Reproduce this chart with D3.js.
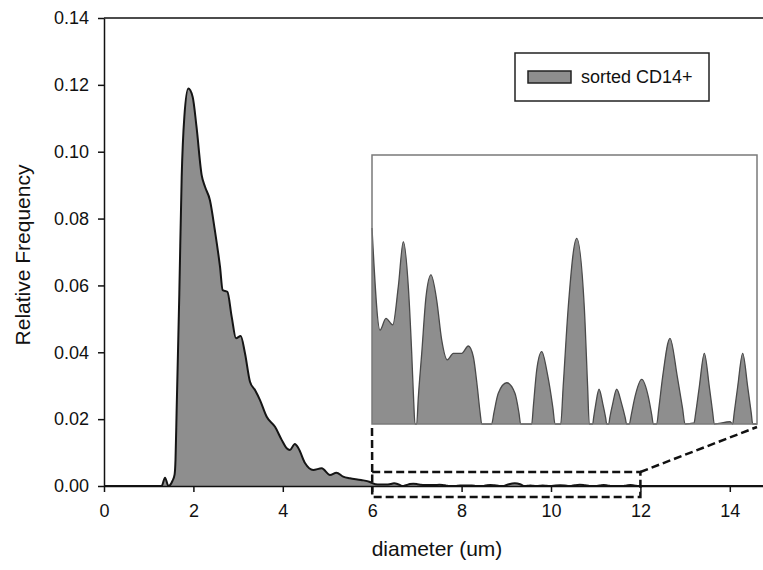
<!DOCTYPE html>
<html>
<head>
<meta charset="utf-8">
<script src="https://cdn.jsdelivr.net/npm/d3@7"></script>
<style>
  body { margin: 0; background: #fff; }
  svg { display: block; font-family: Arial, "Liberation Sans", sans-serif; }
</style>
</head>
<body>
<svg id="svg"></svg>
<script>
// main histogram (0 - 6 um)
var diam = [0, 1.29, 1.365, 1.44, 1.53, 1.58, 1.6, 1.625, 1.685, 1.738, 1.797, 1.886, 1.984, 2.07, 2.185, 2.26, 2.37, 2.48, 2.595, 2.655, 2.76, 2.857, 2.953, 3.058, 3.154, 3.266, 3.378, 3.49, 3.64, 3.826, 3.975, 4.087, 4.16, 4.27, 4.35, 4.5, 4.68, 4.87, 5.056, 5.2, 5.35, 5.5, 5.75, 5.95];
var freq = [0, 0, 0.0025, 0, 0.0015, 0.0035, 0.008, 0.0227, 0.0576, 0.0925, 0.1104, 0.1189, 0.1164, 0.1074, 0.093, 0.0895, 0.0855, 0.0765, 0.0656, 0.0586, 0.0581, 0.0506, 0.0442, 0.0449, 0.0397, 0.0312, 0.0287, 0.0257, 0.0207, 0.0177, 0.0138, 0.0113, 0.0108, 0.0126, 0.0113, 0.0068, 0.0048, 0.0053, 0.0033, 0.004, 0.0028, 0.0023, 0.0018, 0.0012];

// zoomed tail (6 - 12 um), shown in the inset
var insetDiam = [6.000, 6.125, 6.218, 6.323, 6.410, 6.488, 6.566, 6.619, 6.650, 6.670,
    6.697, 6.720, 6.775, 6.842, 6.919, 7.008, 7.086, 7.173, 7.267, 7.398, 7.501, 7.579, 7.641, 7.685, 7.710,
    7.865, 7.900, 7.968, 8.099, 8.228, 8.290, 8.317,
    8.489, 8.515, 8.567, 8.645, 8.732, 8.820, 8.852,
    8.941, 8.980, 9.059, 9.190, 9.308, 9.360, 9.386,
    9.439, 9.455, 9.488, 9.538, 9.597, 9.640, 9.658,
    9.689, 9.707, 9.751, 9.813, 9.891, 9.945, 9.969,
    10.010, 10.040, 10.099, 10.203, 10.306, 10.360, 10.384,
    10.437, 10.470, 10.530, 10.644, 10.758, 10.840, 10.878,
    11.019, 11.045, 11.101, 11.179, 11.257, 11.310, 11.334,
    11.579, 11.621, 11.645, 11.699, 11.777, 11.855, 11.910, 11.933, 12.000];
var insetFreq = [0.000874, 0.000419, 0.000471, 0.000442, 0.000613, 0.000813, 0.000613, 0.000315, 0.0001, 0,
    0, 0.00011, 0.000315, 0.000568, 0.000665, 0.000553, 0.000375, 0.000286, 0.000315, 0.000315, 0.000348, 0.0003, 0.000166, 0.00005, 0,
    0, 0.00005, 0.000137, 0.000184, 0.000137, 0.00005, 0,
    0, 0.00008, 0.000241, 0.000323, 0.000226, 0.00007, 0,
    0, 0.00017, 0.000523, 0.000828, 0.000523, 0.00017, 0,
    0, 0.00003, 0.00009, 0.000155, 0.00009, 0.00003, 0,
    0, 0.00003, 0.00009, 0.000155, 0.00009, 0.00003, 0,
    0, 0.00004, 0.000122, 0.000199, 0.000122, 0.00004, 0,
    0, 0.00007, 0.000211, 0.000382, 0.000211, 0.00007, 0,
    0.000005, 0.00005, 0.000166, 0.000315, 0.000166, 0.00005, 0,
    0.00001, 0, 0.00005, 0.000166, 0.000315, 0.000166, 0.00005, 0, 0];

var tailDiam = [12.5, 15];
var tailFreq = [0, 0];

var xTicks = [0, 2, 4, 6, 8, 10, 12, 14];
var yTicks = [0, 0.02, 0.04, 0.06, 0.08, 0.10, 0.12, 0.14];
var seriesName = "sorted CD14+";

var svgWidth = 763, svgHeight = 570;
var svg = d3.select('#svg').attr("width", svgWidth).attr("height", svgHeight);

var fillGray = "#8e8e8e";

var x = d3.scaleLinear().domain([0, 15]).range([104, 104 + 15 * 44.7]);
var y = d3.scaleLinear().domain([0, 0.14]).range([486, 18]);

var data = [];
diam.forEach((d, i) => data.push({d: d, f: freq[i]}));
insetDiam.forEach((d, i) => data.push({d: d, f: insetFreq[i]}));
tailDiam.forEach((d, i) => data.push({d: d, f: tailFreq[i]}));

var area = d3.area().curve(d3.curveMonotoneX)
    .x(p => x(p.d)).y0(y(0)).y1(p => y(p.f));
var line = d3.line().curve(d3.curveMonotoneX)
    .x(p => x(p.d)).y(p => y(p.f));

svg.append("path").datum(data).attr("fill", fillGray).attr("d", area);
svg.append("path").datum(data).attr("fill", "none").attr("stroke", "#151515")
    .attr("stroke-width", 2).attr("stroke-linejoin", "round").attr("d", line);

// frame
svg.append("line").attr("x1", x(0)).attr("x2", x(15)).attr("y1", y(0.14)).attr("y2", y(0.14))
    .attr("stroke", "#111").attr("stroke-width", 1.5);

var gx = svg.append("g").attr("transform", "translate(0," + y(0) + ")")
    .call(d3.axisBottom(x).tickValues(xTicks).tickFormat(d3.format("d")).tickSize(6).tickPadding(12).tickSizeOuter(0));
var gy = svg.append("g").attr("transform", "translate(" + x(0) + ",0)")
    .call(d3.axisLeft(y).tickValues(yTicks).tickFormat(d3.format(".2f")).tickSize(6).tickPadding(9).tickSizeOuter(0));

[gx, gy].forEach(g => {
    g.select(".domain").attr("stroke", "#111").attr("stroke-width", 1.5);
    g.selectAll(".tick line").attr("stroke", "#111").attr("stroke-width", 1.5);
    g.selectAll(".tick text").attr("fill", "#111").style("font-size", "18px").style("font-family", "Arial, 'Liberation Sans', sans-serif");
});

svg.append("text").attr("x", 437).attr("y", 556).attr("text-anchor", "middle")
    .style("font-size", "21px").attr("fill", "#111").text("diameter (um)");
svg.append("text").attr("transform", "translate(30,255) rotate(-90)").attr("text-anchor", "middle")
    .style("font-size", "21px").attr("fill", "#111").text("Relative Frequency");

// inset
var ix = d3.scaleLinear().domain([6, 12]).range([372, 757]);
var iy = d3.scaleLinear().domain([0, 0.0012]).range([424, 155]);

var insetData = insetDiam.map((d, i) => ({d: d, f: insetFreq[i]}));

svg.append("rect").attr("x", ix(6)).attr("y", iy(0.0012)).attr("width", ix(12) - ix(6)).attr("height", iy(0) - iy(0.0012))
    .attr("fill", "#fff");

svg.append("path").datum(insetData).attr("fill", fillGray)
    .attr("d", d3.area().curve(d3.curveMonotoneX).x(p => ix(p.d)).y0(iy(0)).y1(p => iy(p.f)));
svg.append("path").datum(insetData).attr("fill", "none").attr("stroke", "#4a4a4a").attr("stroke-width", 1.3)
    .attr("d", d3.line().curve(d3.curveMonotoneX).x(p => ix(p.d)).y(p => iy(p.f)));

svg.append("rect").attr("x", ix(6)).attr("y", iy(0.0012)).attr("width", ix(12) - ix(6)).attr("height", iy(0) - iy(0.0012))
    .attr("fill", "none").attr("stroke", "#7a7a7a").attr("stroke-width", 1.5);

// zoom box + connectors
var boxTop = y(0.0042), boxBottom = y(-0.0033);
var dash = "8,4";
svg.append("rect").attr("x", x(6)).attr("y", boxTop).attr("width", x(12) - x(6)).attr("height", boxBottom - boxTop)
    .attr("fill", "none").attr("stroke", "#111").attr("stroke-width", 2.5).attr("stroke-dasharray", dash);
svg.append("line").attr("x1", x(6)).attr("y1", boxTop).attr("x2", ix(6)).attr("y2", iy(0) + 3)
    .attr("stroke", "#111").attr("stroke-width", 2.5).attr("stroke-dasharray", dash);
svg.append("line").attr("x1", x(12)).attr("y1", boxTop).attr("x2", ix(12)).attr("y2", iy(0) + 3)
    .attr("stroke", "#111").attr("stroke-width", 2.5).attr("stroke-dasharray", dash);

// legend
var leg = svg.append("g").attr("transform", "translate(515,53)");
leg.append("rect").attr("width", 194).attr("height", 48).attr("fill", "#fff")
    .attr("stroke", "#222").attr("stroke-width", 1.5);
leg.append("rect").attr("x", 13).attr("y", 18).attr("width", 43).attr("height", 12)
    .attr("fill", fillGray).attr("stroke", "#222").attr("stroke-width", 1.5);
leg.append("text").attr("x", 66).attr("y", 30).style("font-size", "18px").attr("fill", "#111").text(seriesName);
</script>
</body>
</html>
